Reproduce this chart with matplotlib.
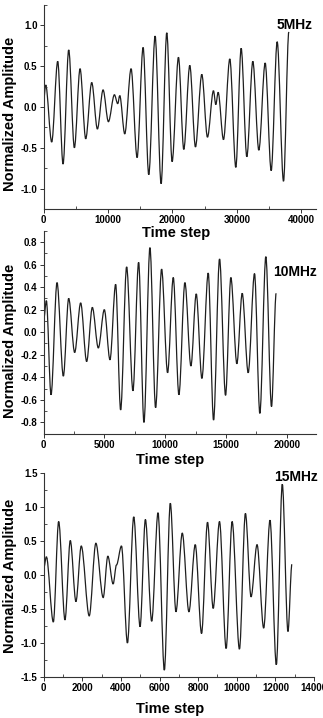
import matplotlib
matplotlib.use('Agg')
import matplotlib.pyplot as plt
from matplotlib.path import Path
from matplotlib.patches import PathPatch
from matplotlib.ticker import MultipleLocator, FuncFormatter

plt.rcParams['axes.unicode_minus'] = False
plt.rcParams['font.family'] = ['Liberation Sans', 'DejaVu Sans']

# extrema of each waveform (time step, normalized amplitude)
t5 = [0, 311, 1244, 2176, 3005, 3886, 4767, 5648, 6528, 7461, 8342, 9223, 10052,
      10984, 11503, 11813, 12591, 13575, 14508, 15440, 16321, 17306, 18238, 19119,
      19948, 20933, 21762, 22694, 23575, 24560, 25440, 26373, 26736, 27098, 27927,
      28912, 29845, 30674, 31554, 32487, 33420, 34404, 35337, 36269, 37254, 38083]
a5 = [0.09, 0.27, -0.43, 0.56, -0.70, 0.70, -0.50, 0.47, -0.39, 0.30, -0.27, 0.21, -0.18,
      0.15, 0.04, 0.14, -0.33, 0.47, -0.62, 0.73, -0.83, 0.87, -0.94, 0.91,
      -0.67, 0.61, -0.52, 0.51, -0.49, 0.40, -0.37, 0.20, 0.03, 0.18, -0.40,
      0.59, -0.74, 0.72, -0.61, 0.56, -0.53, 0.54, -0.78, 0.80, -0.91, 0.92]

t10 = [0, 219, 603, 1096, 1616, 2055, 2548, 3041, 3534, 4000, 4493, 4986, 5452,
       5918, 6329, 6822, 7342, 7808, 8247, 8740, 9205, 9699, 10192, 10658, 11123,
       11616, 12110, 12548, 13014, 13534, 13973, 14466, 14959, 15397, 15890, 16329,
       16822, 17342, 17781, 18274, 18740, 19123]
a10 = [0.11, 0.28, -0.555, 0.44, -0.39, 0.30, -0.18, 0.26, -0.26, 0.22, -0.14, 0.20, -0.245,
       0.425, -0.69, 0.58, -0.52, 0.62, -0.80, 0.75, -0.67, 0.56, -0.36, 0.485, -0.555,
       0.44, -0.30, 0.34, -0.41, 0.525, -0.78, 0.65, -0.56, 0.485, -0.28, 0.345,
       -0.36, 0.52, -0.72, 0.67, -0.66, 0.345]

t15 = [0, 138, 499, 775, 1102, 1377, 1670, 1945, 2358, 2702, 3081, 3322, 3597,
       3769, 4028, 4337, 4664, 4991, 5267, 5594, 5921, 6248, 6558, 6850, 7177,
       7522, 7849, 8176, 8485, 8778, 9105, 9449, 9759, 10138, 10448, 10740,
       11050, 11394, 11721, 12048, 12358, 12651, 12857]
a15 = [0.10, 0.27, -0.69, 0.79, -0.66, 0.51, -0.39, 0.43, -0.60, 0.47, -0.33, 0.28, -0.13,
       0.15, 0.43, -1.00, 0.86, -0.76, 0.82, -0.68, 0.92, -1.40, 1.06, -0.54, 0.62,
       -0.54, 0.45, -0.86, 0.78, -0.49, 0.79, -1.08, 0.79, -1.09, 0.91, -0.32,
       0.45, -0.78, 0.81, -1.32, 1.34, -0.83, 0.16]

W, H = 323.0, 718.0


def smooth_wave(ax, ts, amps):
    # cubic segments between extrema, flat tangent at each extremum
    verts = [(ts[0], amps[0])]
    codes = [Path.MOVETO]
    for i in range(1, len(ts)):
        dt = ts[i] - ts[i - 1]
        verts += [(ts[i - 1] + dt / 3.0, amps[i - 1]),
                  (ts[i] - dt / 3.0, amps[i]),
                  (ts[i], amps[i])]
        codes += [Path.CURVE4] * 3
    patch = PathPatch(Path(verts, codes), facecolor='none', edgecolor='#1e1e1e', lw=0.9)
    ax.add_patch(patch)


def make_panel(rect_px, ts, amps, xlim, ylim, xmaj, xmin, ymaj, ymin, label, label_xy,
               xlab_xy, ylab_y):
    l, r, t, b = rect_px
    ax = fig.add_axes([l / W, 1 - b / H, (r - l) / W, (b - t) / H])
    smooth_wave(ax, ts, amps)
    ax.set_xlim(*xlim)
    ax.set_ylim(*ylim)
    for s in ['top', 'right']:
        ax.spines[s].set_visible(False)
    for s in ['left', 'bottom']:
        ax.spines[s].set_linewidth(0.8)
        ax.spines[s].set_color('#333333')
    ax.xaxis.set_major_locator(MultipleLocator(xmaj))
    ax.xaxis.set_minor_locator(MultipleLocator(xmin))
    ax.yaxis.set_major_locator(MultipleLocator(ymaj))
    ax.yaxis.set_minor_locator(MultipleLocator(ymin))
    ax.yaxis.set_major_formatter(FuncFormatter(lambda v, p: '%.1f' % (0.0 if abs(v) < 1e-9 else v)))
    ax.xaxis.set_major_formatter(FuncFormatter(lambda v, p: '%d' % round(v)))
    ax.tick_params(which='major', direction='out', length=3, width=0.7, pad=1.5,
                   labelsize=7, colors='#333333', labelcolor='black')
    ax.tick_params(which='minor', direction='in', length=2, width=0.6, colors='#333333')
    for tl in ax.get_xticklabels() + ax.get_yticklabels():
        tl.set_fontweight('bold')
    fig.text(label_xy[0] / W, 1 - label_xy[1] / H, label, ha='right', va='center',
             fontsize=10, fontweight='bold')
    fig.text(xlab_xy[0] / W, 1 - xlab_xy[1] / H, 'Time step', ha='center', va='center',
             fontsize=10.5, fontweight='bold')
    fig.text(10 / W, 1 - ylab_y / H, 'Normalized Amplitude', ha='center', va='center',
             rotation=90, fontsize=10.5, fontweight='bold')
    return ax


fig = plt.figure(figsize=(3.23, 7.18), dpi=100)

make_panel((43.7, 316, 5, 209), t5, a5, (0, 42300), (-1.25, 1.25), 10000, 5000, 0.5, 0.25,
           '5MHz', (313, 25), (176, 233), 114)
make_panel((43.7, 316, 230.7, 433.7), t10, a10, (0, 22400), (-0.9, 0.9), 5000, 2500, 0.2, 0.1,
           '10MHz', (317, 272), (170, 460), 341)
make_panel((43.7, 314, 473.3, 677), t15, a15, (0, 14000), (-1.5, 1.5), 2000, 1000, 0.5, 0.25,
           '15MHz', (318, 477), (170, 709), 576)

fig.savefig('out.png', dpi=100)
